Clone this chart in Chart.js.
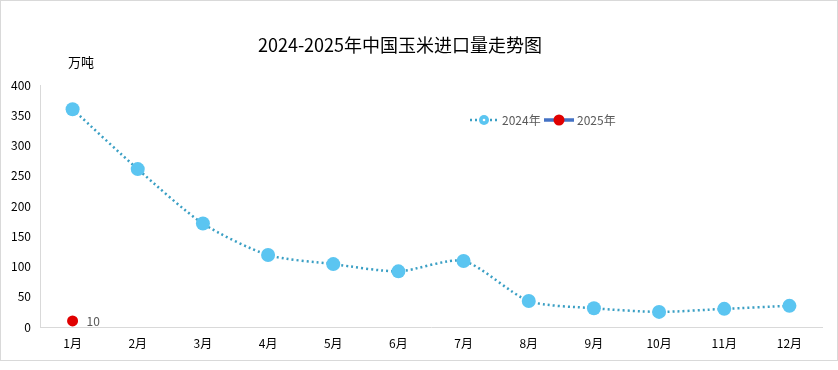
<!DOCTYPE html>
<html><head><meta charset="utf-8">
<script src="https://cdn.jsdelivr.net/npm/chart.js@4"></script>
<style>
html,body{margin:0;padding:0;background:#fff;}
#box{position:absolute;left:0;top:0;width:836px;height:359px;border:1px solid #d9d9d9;}
canvas{display:block;}
</style></head><body>
<div id="box"><canvas id="c" width="836" height="359"></canvas></div>
<script>
const categories = ['1月','2月','3月','4月','5月','6月','7月','8月','9月','10月','11月','12月'];
const values2024 = [360, 261, 171, 119, 104, 92, 109, 43, 31, 25, 30, 35];
const values2025 = [10, null, null, null, null, null, null, null, null, null, null, null];
const yTicks = [0, 50, 100, 150, 200, 250, 300, 350, 400];
const titleText = '2024-2025年中国玉米进口量走势图';
const unitText = '万吨';
const seriesNames = ['2024年', '2025年'];

const FONT = '"Microsoft YaHei","Noto Sans CJK SC","Noto Sans",sans-serif';

const decor = {
  id: 'decor',
  afterDraw(chart) {
    const ctx = chart.ctx;
    ctx.save();
    // title
    ctx.fillStyle = '#000';
    ctx.font = '18px ' + FONT;
    ctx.textAlign = 'center';
    ctx.textBaseline = 'middle';
    ctx.fillText(titleText, 399, 44);
    // unit
    ctx.font = '13px ' + FONT;
    ctx.textAlign = 'left';
    ctx.fillText(unitText, 67, 61);
    // data label for 2025
    const meta = chart.getDatasetMeta(1);
    meta.data.forEach((pt, i) => {
      if (values2025[i] == null) return;
      ctx.fillStyle = '#595959';
      ctx.font = '12px ' + FONT;
      ctx.textAlign = 'left';
      ctx.textBaseline = 'middle';
      ctx.fillText(String(values2025[i]), pt.x + 14, pt.y);
    });
    // legend
    const ly = 119;
    ctx.strokeStyle = '#3a9fc4';
    ctx.lineWidth = 2.5;
    ctx.setLineDash([2, 3]);
    ctx.beginPath(); ctx.moveTo(469, ly); ctx.lineTo(497, ly); ctx.stroke();
    ctx.setLineDash([]);
    ctx.fillStyle = '#5bc5f1';
    ctx.beginPath(); ctx.arc(483, ly, 5, 0, Math.PI * 2); ctx.fill();
    ctx.fillStyle = '#fff';
    ctx.beginPath(); ctx.arc(483, ly, 1.3, 0, Math.PI * 2); ctx.fill();
    ctx.fillStyle = '#595959';
    ctx.font = '12px ' + FONT;
    ctx.textAlign = 'left';
    ctx.fillText(seriesNames[0], 501, ly);
    ctx.strokeStyle = '#4472c4';
    ctx.lineWidth = 3.5;
    ctx.beginPath(); ctx.moveTo(543, ly); ctx.lineTo(573, ly); ctx.stroke();
    ctx.fillStyle = '#e00000';
    ctx.beginPath(); ctx.arc(558, ly, 5.5, 0, Math.PI * 2); ctx.fill();
    ctx.fillStyle = '#595959';
    ctx.fillText(seriesNames[1], 576, ly);
    ctx.restore();
  }
};

new Chart(document.getElementById('c'), {
  type: 'line',
  data: {
    labels: categories,
    datasets: [
      {
        label: seriesNames[0],
        data: values2024,
        borderColor: '#3a9fc4',
        borderWidth: 2.5,
        borderDash: [2, 3],
        tension: 0.25,
        pointRadius: 7,
        pointHoverRadius: 7,
        pointBackgroundColor: '#5bc5f1',
        pointBorderColor: '#5bc5f1',
        pointBorderWidth: 0
      },
      {
        label: seriesNames[1],
        data: values2025,
        borderColor: '#4472c4',
        borderWidth: 3.5,
        pointRadius: 5.5,
        pointBackgroundColor: '#e00000',
        pointBorderColor: '#e00000',
        pointBorderWidth: 0
      }
    ]
  },
  options: {
    responsive: false,
    animation: false,
    events: [],
    layout: { padding: { left: 0, top: 84, right: 15, bottom: 0 } },
    plugins: { legend: { display: false }, title: { display: false }, tooltip: { enabled: false } },
    scales: {
      x: {
        offset: true,
        grid: { display: false, drawTicks: false },
        border: { display: true, color: '#d9d9d9', width: 1 },
        ticks: { color: '#000', font: { family: FONT, size: 12 }, padding: 9, maxRotation: 0 },
        afterFit(s) { s.height = 33; }
      },
      y: {
        min: 0, max: 400,
        afterBuildTicks(s) { s.ticks = yTicks.map(v => ({ value: v })); },
        grid: { display: false, drawTicks: false },
        border: { display: true, color: '#d9d9d9', width: 1 },
        ticks: { color: '#000', font: { family: FONT, size: 12 }, padding: 9 },
        afterFit(s) { s.width = 39; }
      }
    }
  },
  plugins: [decor]
});
</script>
</body></html>
